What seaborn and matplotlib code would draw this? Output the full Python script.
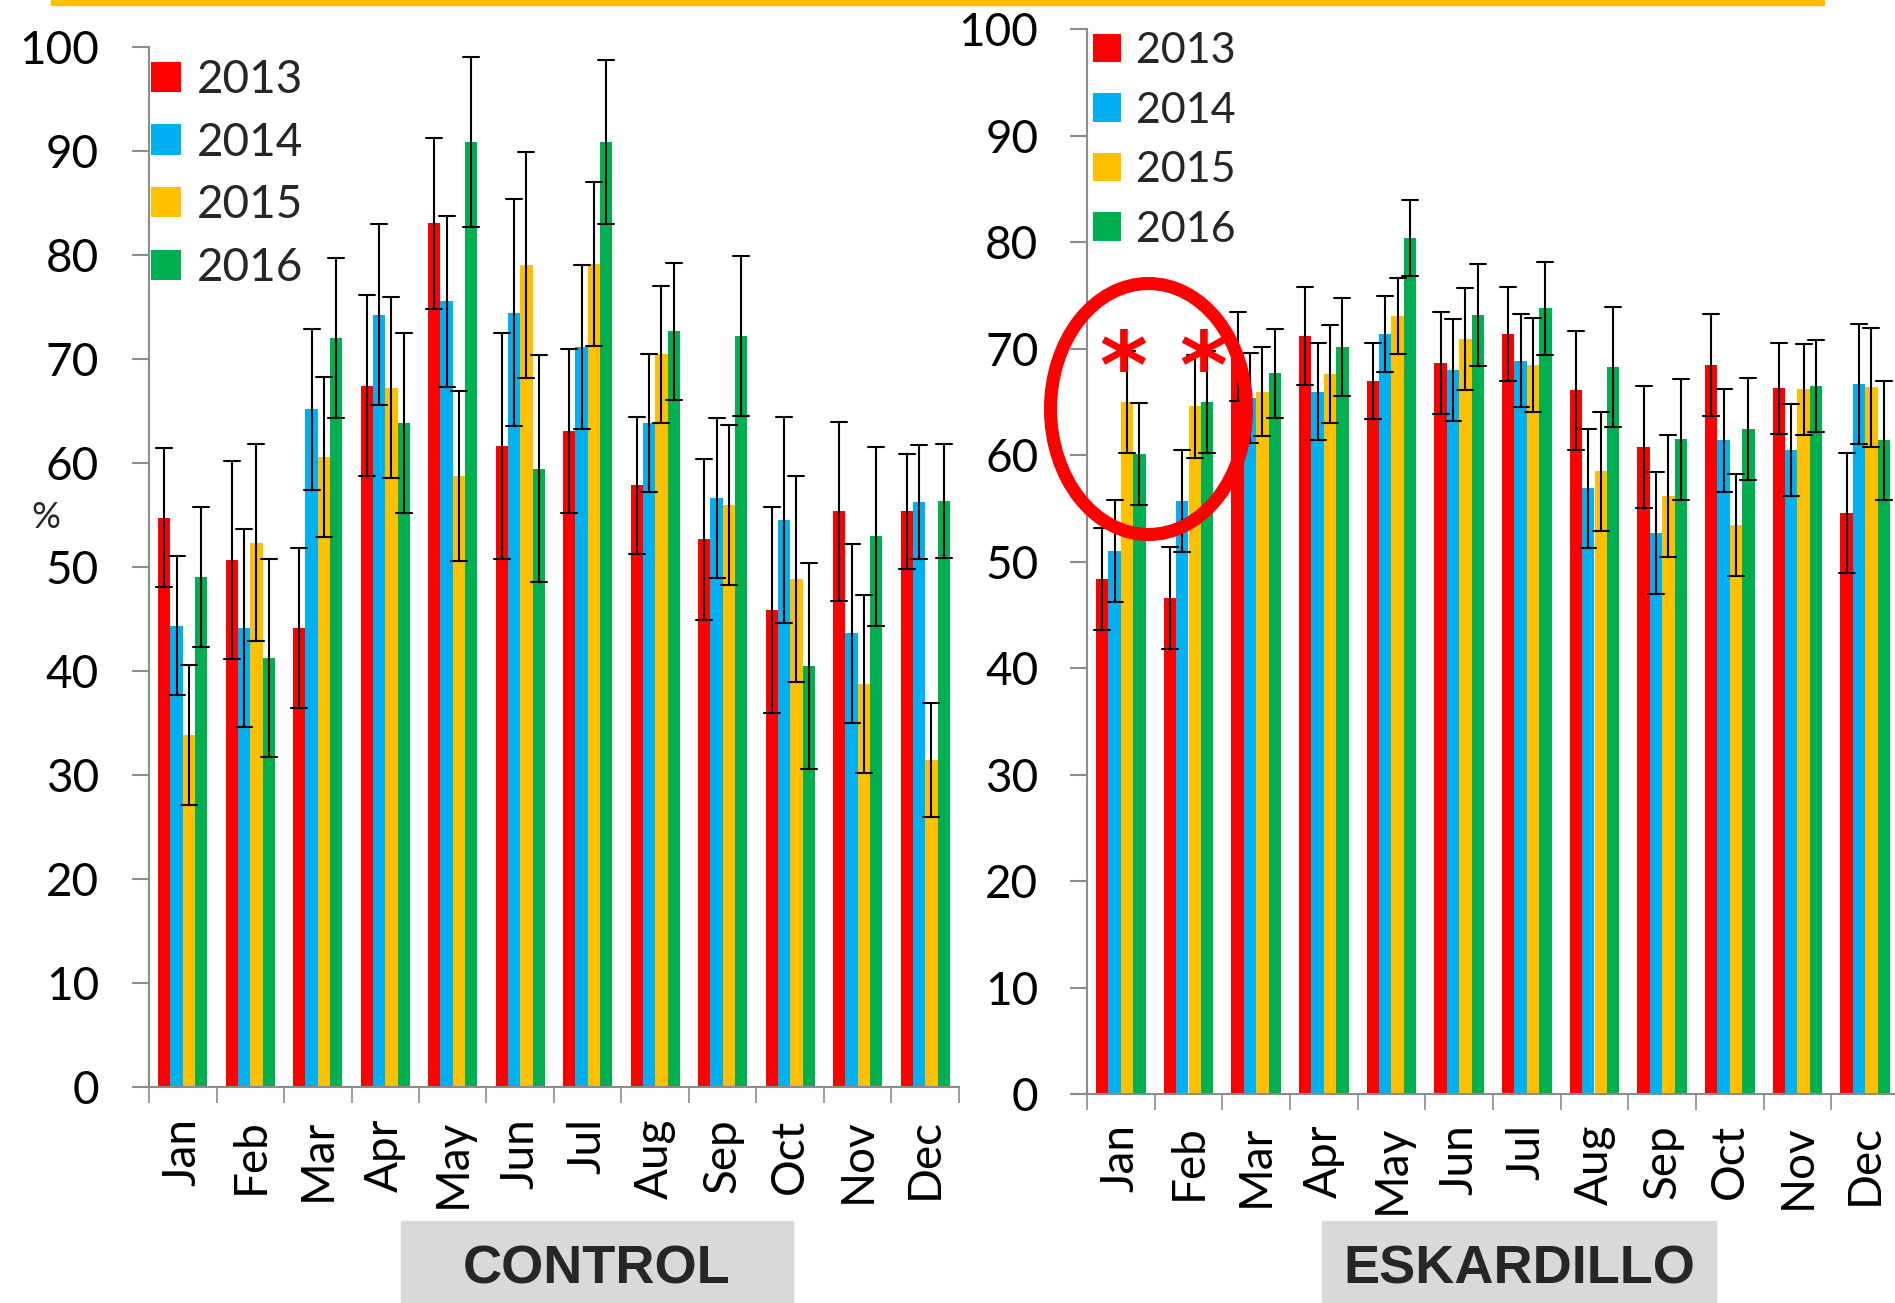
import pandas as pd
import matplotlib.pyplot as plt
import seaborn as sns
from matplotlib.patches import Rectangle, Ellipse
from matplotlib.ticker import FixedLocator

# months and years
months = ['Jan', 'Feb', 'Mar', 'Apr', 'May', 'Jun', 'Jul', 'Aug', 'Sep', 'Oct', 'Nov', 'Dec']
years = ['2013', '2014', '2015', '2016']
colors = ['#FF0000', '#00B0F0', '#FFC000', '#00B050']

# CONTROL: means and error (half-length of the bars)
ctrl_2013 = [54.7, 50.6, 44.1, 67.4, 83.0, 61.6, 63.0, 57.8, 52.6, 45.8, 55.3, 55.3]
ctrl_2014 = [44.3, 44.1, 65.1, 74.2, 75.5, 74.4, 71.1, 63.8, 56.6, 54.5, 43.6, 56.2]
ctrl_2015 = [33.8, 52.3, 60.5, 67.2, 58.7, 79.0, 79.1, 70.4, 55.9, 48.8, 38.7, 31.4]
ctrl_2016 = [49.0, 41.2, 72.0, 63.8, 90.8, 59.4, 90.8, 72.6, 72.2, 40.4, 52.9, 56.3]
ctrl_err = [6.7, 9.5, 7.7, 8.7, 8.2, 10.9, 7.9, 6.6, 7.7, 9.9, 8.6, 5.5]

# ESKARDILLO
esk_2013 = [48.4, 46.6, 69.3, 71.2, 67.0, 68.7, 71.4, 66.1, 60.8, 68.5, 66.3, 54.6]
esk_2014 = [51.0, 55.7, 65.4, 66.0, 71.4, 68.0, 68.9, 56.9, 52.7, 61.4, 60.5, 66.7]
esk_2015 = [65.0, 64.6, 66.0, 67.6, 73.1, 70.9, 68.5, 58.5, 56.2, 53.5, 66.2, 66.4]
esk_2016 = [60.1, 65.0, 67.7, 70.2, 80.4, 73.2, 73.8, 68.3, 61.5, 62.5, 66.5, 61.4]
esk_err = [4.8, 4.8, 4.2, 4.6, 3.6, 4.8, 4.4, 5.6, 5.7, 4.8, 4.3, 5.6]


def long_table(series, err):
    # two rows per bar (mean - err, mean + err): mean is the bar, min/max the error bar
    rows = []
    for year, vals in zip(years, series):
        for m, v, e in zip(months, vals, err):
            rows.append({'month': m, 'year': year, 'value': v - e})
            rows.append({'month': m, 'year': year, 'value': v + e})
    return pd.DataFrame(rows)


ctrl = long_table([ctrl_2013, ctrl_2014, ctrl_2015, ctrl_2016], ctrl_err)
esk = long_table([esk_2013, esk_2014, esk_2015, esk_2016], esk_err)

sns.set_style('white')
plt.rcParams['font.family'] = ['Lato', 'DejaVu Sans']

W, H = 1895, 1303
fig = plt.figure(figsize=(W / 100, H / 100), dpi=100)
ax1 = fig.add_axes([149 / W, 1 - 1086.5 / H, 810 / W, 1040 / H])
ax2 = fig.add_axes([1087 / W, 1 - 1094.4 / H, 812 / W, 1065 / H])


def draw(ax, df, legend_size, legend_anchor, spacing, xpad, ypad):
    sns.barplot(data=df, x='month', y='value', hue='year', order=months, hue_order=years,
                palette=colors, saturation=1, errorbar=lambda v: (v.min(), v.max()),
                capsize=0.95, err_kws={'color': 'black', 'linewidth': 1.5}, width=0.73,
                linewidth=0, ax=ax)
    ax.set_ylim(0, 100)
    ax.set_xlim(-0.5, 11.5)
    ax.set_yticks(range(0, 101, 10))
    ax.set_xlabel('')
    ax.set_ylabel('')
    for s in ['top', 'right']:
        ax.spines[s].set_visible(False)
    for s in ['left', 'bottom']:
        ax.spines[s].set_color('#8c8c8c')
        ax.spines[s].set_linewidth(1.5)
    ax.tick_params(axis='y', length=12, width=1.5, color='#8c8c8c', pad=ypad,
                   labelsize=33, labelcolor='black', left=True)
    ax.tick_params(axis='x', which='major', length=0, pad=xpad, labelsize=33,
                   labelrotation=90, labelcolor='black')
    ax.xaxis.set_minor_locator(FixedLocator([i - 0.5 for i in range(13)]))
    ax.tick_params(axis='x', which='minor', length=11.5, width=1.2, color='#8c8c8c',
                   bottom=True)
    handles, labels = ax.get_legend_handles_labels()
    ax.legend(handles, labels, loc='upper left', bbox_to_anchor=legend_anchor,
              bbox_transform=fig.transFigure, frameon=False, fontsize=legend_size,
              borderpad=0, borderaxespad=0, labelspacing=spacing, handlelength=0.66,
              handleheight=0.64, handletextpad=0.35)


draw(ax1, ctrl, 33, (151 / W, 1 - 59 / H), 0.45, 23, 24)
draw(ax2, esk, 31, (1093 / W, 1 - 32 / H), 0.5, 21.5, 23)

fig.text(46 / W, 1 - 518 / H, '%', fontsize=26, ha='center', va='center')

# top orange rule
fig.patches.append(Rectangle((51 / W, 1 - 5 / H), (1824 - 51) / W, 5 / H,
                             transform=fig.transFigure, color='#FFC000', zorder=5))

# panel captions
for x0, x1, label in [(401, 793, 'CONTROL'), (1322, 1716, 'ESKARDILLO')]:
    fig.patches.append(Rectangle((x0 / W, 0), (x1 - x0) / W, 82 / H,
                                 transform=fig.transFigure, color='#D9D9D9', zorder=1))
    fig.text((x0 + x1) / 2 / W, 1 - 1270 / H, label, fontsize=39, fontweight='bold',
             family='Liberation Sans', ha='center', va='center', zorder=2)

# red circle and asterisks
fig.patches.append(Ellipse((1148.5 / W, 1 - 409 / H), 196 / W, 251 / H,
                           transform=fig.transFigure, fill=False, edgecolor='#FF0000',
                           linewidth=9.4, zorder=6))
for x in [1123, 1203]:
    fig.text(x / W, 1 - 372 / H, '*', fontsize=66, fontweight='bold', color='#FF0000',
             family='DejaVu Sans', ha='center', va='center', zorder=7)

fig.savefig('out.png', dpi=100)
